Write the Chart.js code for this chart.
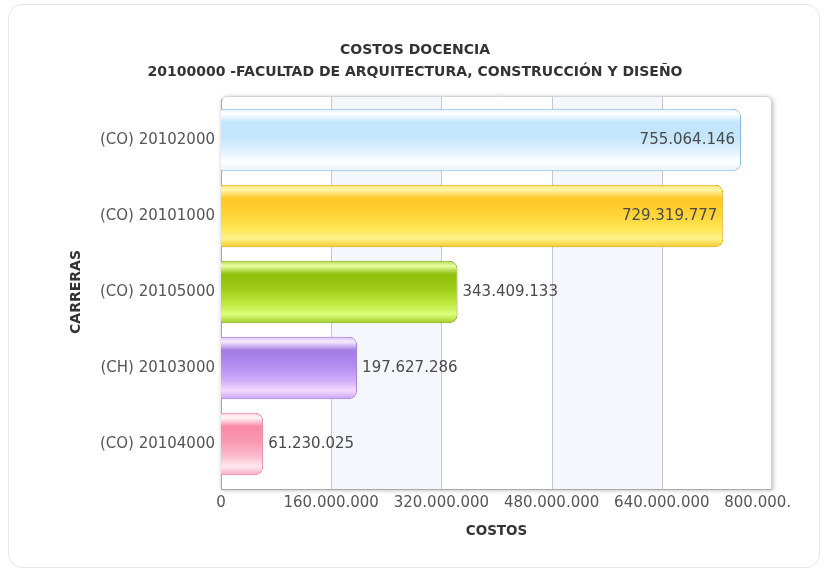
<!DOCTYPE html>
<html>
<head>
<meta charset="utf-8">
<script src="https://cdn.jsdelivr.net/npm/chart.js@4.4.1/dist/chart.umd.min.js"></script>
<style>
  html, body { margin: 0; padding: 0; background: #ffffff; }
  #wrap { position: relative; width: 824px; height: 573px; overflow: hidden; }
  #card { position: absolute; left: 8px; top: 4px; width: 812px; height: 564px;
          border: 1px solid #e6e6e6; border-radius: 14px; box-sizing: border-box; }
  #c { position: absolute; left: 0; top: 0; }
</style>
</head>
<body>
<div id="wrap">
  <div id="card"></div>
  <canvas id="c" width="824" height="573"></canvas>
</div>
<script>
// ---- data ----
const titleLines = ["COSTOS DOCENCIA", "20100000 -FACULTAD DE ARQUITECTURA, CONSTRUCCIÓN Y DISEÑO"];
const categories = ["(CO) 20102000", "(CO) 20101000", "(CO) 20105000", "(CH) 20103000", "(CO) 20104000"];
const costValues = [755064146, 729319777, 343409133, 197627286, 61230025];
const xTickMin = 0;
const xTickMax = 800000000;
const xTickStep = 160000000;
const xAxisTitle = "COSTOS";
const yAxisTitle = "CARRERAS";

// ---- styles ----
const barPalettes = [
  { border: "#86b5d6", stops: [[0, "#dff1fd"], [0.08, "#ffffff"], [0.22, "#c4e6fc"], [0.45, "#c2e5fb"], [0.7, "#e3f4fe"], [0.86, "#ffffff"], [1, "#e6f3fb"]] },
  { border: "#d7a404", stops: [[0, "#ffe27a"], [0.08, "#fff6a8"], [0.22, "#ffc825"], [0.45, "#ffd234"], [0.7, "#ffe453"], [0.86, "#fff28c"], [1, "#f4cb2a"]] },
  { border: "#7ea516", stops: [[0, "#b3d94c"], [0.08, "#e9ffa6"], [0.22, "#8fbf08"], [0.45, "#9fcd17"], [0.7, "#c2ea45"], [0.86, "#dcff7a"], [1, "#a2cc26"]] },
  { border: "#9b73d3", stops: [[0, "#d8c2f7"], [0.08, "#f6eaff"], [0.22, "#a47be4"], [0.45, "#b18cee"], [0.7, "#d2acfb"], [0.86, "#f5d9ff"], [1, "#c7a3ef"]] },
  { border: "#e27c98", stops: [[0, "#fbd0dc"], [0.08, "#fff6f9"], [0.22, "#f98aa7"], [0.45, "#fa97b1"], [0.7, "#fcbcd0"], [0.86, "#ffe9f0"], [1, "#f7a9c0"]] }
];
const tickFont = { family: "'DejaVu Sans', Verdana, sans-serif", size: 15 };
const textColor = "#555555";

function fmt(v) {
  return String(Math.round(v)).replace(/\B(?=(\d{3})+(?!\d))/g, ".");
}

const plotFramePlugin = {
  id: "plotFrame",
  beforeDatasetsDraw(chart) {
    const { ctx, chartArea } = chart;
    const xs = chart.scales.x;
    const left = chartArea.left, right = chartArea.right;
    const top = chartArea.top - 6, bottom = chartArea.bottom + 7;
    const r = 7;
    ctx.save();
    ctx.beginPath();
    ctx.moveTo(left, bottom);
    ctx.lineTo(left, top + r);
    ctx.quadraticCurveTo(left, top, left + r, top);
    ctx.lineTo(right - r, top);
    ctx.quadraticCurveTo(right, top, right, top + r);
    ctx.lineTo(right, bottom);
    ctx.closePath();
    ctx.shadowColor = "rgba(0,0,0,0.3)";
    ctx.shadowBlur = 5;
    ctx.shadowOffsetX = 1;
    ctx.shadowOffsetY = 1;
    ctx.fillStyle = "#ffffff";
    ctx.fill();
    ctx.shadowColor = "transparent";
    ctx.clip();
    const ticks = xs.ticks.map(t => t.value);
    ctx.fillStyle = "#f4f7fb";
    for (let i = 1; i + 1 < ticks.length; i += 2) {
      const x0 = xs.getPixelForValue(ticks[i]);
      const x1 = xs.getPixelForValue(ticks[i + 1]);
      ctx.fillRect(x0, top, x1 - x0, bottom - top);
    }
    ctx.strokeStyle = "#c6c8cc";
    ctx.lineWidth = 1;
    for (let i = 1; i < ticks.length - 1; i++) {
      const x = Math.round(xs.getPixelForValue(ticks[i])) + 0.5;
      ctx.beginPath();
      ctx.moveTo(x, top);
      ctx.lineTo(x, bottom);
      ctx.stroke();
    }
    ctx.restore();
    ctx.save();
    ctx.beginPath();
    ctx.moveTo(left + 0.5, bottom + 0.5);
    ctx.lineTo(left + 0.5, top + r);
    ctx.quadraticCurveTo(left + 0.5, top + 0.5, left + r, top + 0.5);
    ctx.lineTo(right - r, top + 0.5);
    ctx.quadraticCurveTo(right - 0.5, top + 0.5, right - 0.5, top + r);
    ctx.lineTo(right - 0.5, bottom + 0.5);
    ctx.closePath();
    ctx.strokeStyle = "#d2d2d2";
    ctx.stroke();
    ctx.strokeStyle = "#a8a8a8";
    ctx.beginPath();
    ctx.moveTo(left + 0.5, top + 3);
    ctx.lineTo(left + 0.5, bottom + 0.5);
    ctx.lineTo(right - 0.5, bottom + 0.5);
    ctx.stroke();
    ctx.restore();
  }
};

const valueLabelPlugin = {
  id: "valueLabels",
  afterDatasetsDraw(chart) {
    const { ctx, chartArea } = chart;
    const meta = chart.getDatasetMeta(0);
    ctx.save();
    ctx.font = tickFont.size + "px " + tickFont.family;
    ctx.fillStyle = "#4a4a4a";
    ctx.textBaseline = "middle";
    meta.data.forEach((el, i) => {
      const txt = fmt(chart.data.datasets[0].data[i]);
      const w = ctx.measureText(txt).width;
      if (el.x + 6 + w > chartArea.right) {
        ctx.textAlign = "right";
        ctx.fillText(txt, el.x - 6, el.y);
      } else {
        ctx.textAlign = "left";
        ctx.fillText(txt, el.x + 5, el.y);
      }
    });
    ctx.restore();
  }
};

const clipLabelsPlugin = {
  id: "clipXLabels",
  afterLayout(chart) {
    const xs = chart.scales.x;
    if (xs && !xs._clipPatched) {
      const orig = xs.drawLabels;
      xs.drawLabels = function (area) {
        const c = this.ctx;
        c.save();
        c.beginPath();
        c.rect(0, 0, 790, chart.height);
        c.clip();
        orig.call(this, area);
        c.restore();
      };
      xs._clipPatched = true;
    }
  }
};

function barGradient(context) {
  const chart = context.chart;
  const pal = barPalettes[context.dataIndex % barPalettes.length];
  if (!chart.chartArea || !chart.scales.y) return pal.stops[3][1];
  const ys = chart.scales.y;
  const band = ys.height / categories.length;
  const h = band * 0.82;
  const y = ys.getPixelForValue(context.dataIndex);
  const g = chart.ctx.createLinearGradient(0, y - h / 2, 0, y + h / 2);
  pal.stops.forEach(s => g.addColorStop(s[0], s[1]));
  return g;
}

new Chart(document.getElementById("c"), {
  type: "bar",
  data: {
    labels: categories,
    datasets: [{
      data: costValues,
      backgroundColor: barGradient,
      borderColor: ctx => barPalettes[ctx.dataIndex % barPalettes.length].border,
      borderWidth: 1,
      borderRadius: { topLeft: 0, bottomLeft: 0, topRight: 8, bottomRight: 8 },
      borderSkipped: "start",
      categoryPercentage: 1.0,
      barPercentage: 0.82
    }]
  },
  options: {
    indexAxis: "y",
    responsive: false,
    animation: false,
    devicePixelRatio: 1,
    layout: { padding: { top: 36, left: 58, right: 52, bottom: 33 } },
    plugins: {
      legend: { display: false },
      tooltip: { enabled: false },
      title: {
        display: true,
        text: titleLines,
        color: "#333333",
        font: { family: "'DejaVu Sans', Tahoma, sans-serif", size: 14, weight: "bold", lineHeight: 1.57 },
        padding: { top: 3.5, bottom: 18.5 }
      }
    },
    scales: {
      x: {
        type: "linear",
        min: xTickMin,
        max: xTickMax,
        grid: { display: false, drawTicks: false },
        border: { display: false },
        ticks: {
          stepSize: xTickStep,
          color: textColor,
          font: tickFont,
          padding: 12,
          maxRotation: 0,
          autoSkip: false,
          callback: v => fmt(v)
        },
        title: {
          display: true,
          text: xAxisTitle,
          color: "#333333",
          font: { family: "'DejaVu Sans', Tahoma, sans-serif", size: 13.5, weight: "bold", lineHeight: 1.2 },
          padding: { top: 0, bottom: 0 }
        },
        afterFit(scale) { scale.height = 58; scale.paddingRight = 0; scale.paddingLeft = 0; }
      },
      y: {
        type: "category",
        grid: { display: false, drawTicks: false },
        border: { display: false },
        ticks: { color: textColor, font: tickFont, padding: 6 },
        title: {
          display: true,
          text: yAxisTitle,
          color: "#333333",
          font: { family: "'DejaVu Sans', Tahoma, sans-serif", size: 14, weight: "bold", lineHeight: 1.2 },
          padding: { top: 10, bottom: 0 }
        },
        afterFit(scale) { scale.width = 163; scale.paddingTop = 0; scale.paddingBottom = 0; }
      }
    }
  },
  plugins: [plotFramePlugin, valueLabelPlugin, clipLabelsPlugin]
});
</script>
</body>
</html>
